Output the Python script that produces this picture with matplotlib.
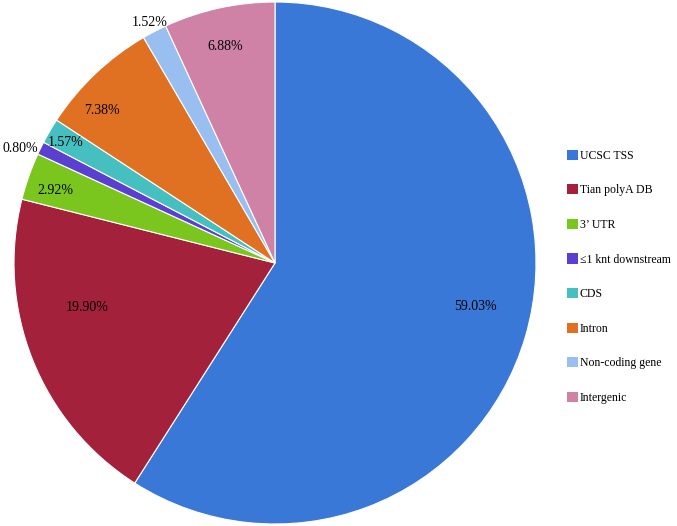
import numpy as np
import matplotlib
matplotlib.use('Agg')
from matplotlib import pyplot as plt
from matplotlib.patches import Patch

plt.rcParams['font.family'] = ['Liberation Serif', 'DejaVu Serif']

labels = ['UCSC TSS', 'Tian polyA DB', '3\u2019 UTR', '\u22641 knt downstream',
          'CDS', 'Intron', 'Non-coding gene', 'Intergenic']
values = [59.03, 19.90, 2.92, 0.80, 1.57, 7.38, 1.52, 6.88]
colors = ['#3a78d8', '#a3213b', '#7bc51f', '#5a3fd0', '#45bfbf', '#e07022', '#99bef0', '#d081a6']
# percent label placement: fraction of radius and angle nudge (degrees)
label_r = [0.785, 0.74, 0.885, 1.07, 0.925, 0.885, 1.04, 0.85]
label_da = [3.9, -8.2, 1.0, 1.8, 0.5, 5.0, 0.0, 0.6]

fig = plt.figure(figsize=(6.77, 5.26), dpi=100)
ax = fig.add_axes([13 / 677, 1 - 524 / 526, 524 / 677, 522 / 526])

wedges, _ = ax.pie(values, colors=colors, startangle=90, counterclock=False,
                   wedgeprops=dict(edgecolor='white', linewidth=0.8))
ax.set_aspect('equal')
ax.set_xlim(-1, 1)
ax.set_ylim(-1, 1)

for w, v, r, da in zip(wedges, values, label_r, label_da):
    ang = np.deg2rad((w.theta1 + w.theta2) / 2 + da)
    ax.text(r * np.cos(ang), r * np.sin(ang), '%.2f%%' % v,
            ha='center', va='center', fontsize=10)

handles = [Patch(facecolor=c, edgecolor='none') for c in colors]
fig.legend(handles, labels, loc='upper left', bbox_to_anchor=(562 / 677, 1 - 145 / 526),
           frameon=False, fontsize=8.5, handlelength=0.95, handleheight=0.95,
           handletextpad=0.15, labelspacing=1.9, borderaxespad=0)

fig.savefig('out.png', dpi=100)
